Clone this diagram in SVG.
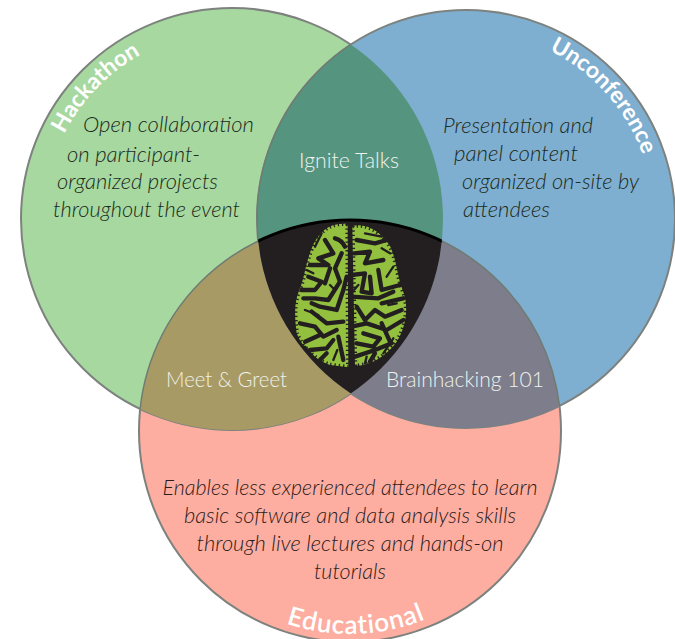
<svg xmlns="http://www.w3.org/2000/svg" width="675" height="639" viewBox="0 0 675 639">
<style>
.ring{stroke:#7d827e;stroke-width:2}
.lens{stroke:#6f7c74;stroke-width:1.5}
.d{font-family:Lato,"Open Sans",sans-serif;font-style:italic;font-weight:300;font-size:22px;fill:#1c2a20}
.r{fill:#2e1c1a}
.w{font-family:Lato,"Open Sans",sans-serif;font-weight:300;font-size:21px;fill:#eef2ee}
.t{font-family:Lato,"Open Sans",sans-serif;font-weight:700;font-size:23px;fill:#fff}
.e{font-weight:600;font-size:26px;letter-spacing:.8px}
.h{fill:#93c13f;stroke:#231f20;stroke-width:14;stroke-dasharray:4 9}
.k{fill:none;stroke:#231f20;stroke-width:13;stroke-linecap:round;stroke-linejoin:round}
.s{fill:none;stroke:#231f20;stroke-width:7;stroke-linecap:round;stroke-linejoin:round}
</style>
<defs>
<clipPath id="cg"><circle cx="232" cy="219" r="211"/></clipPath>
<clipPath id="cb"><circle cx="466" cy="219" r="209"/></clipPath>
<path id="ph" d="M44 219A188 188 0 0 1 232 31"/>
<path id="pu" d="M466 31A188 188 0 0 1 654 219"/>
<path id="pe" d="M147 431A203 203 0 0 0 553 431"/>
</defs>
<rect width="675" height="639" fill="#fff"/>
<g id="educational">
<circle class="ring" cx="350" cy="431" r="211" fill="#fdaea1"/>
<text class="d r" text-anchor="middle" x="350" y="495" textLength="375" lengthAdjust="spacingAndGlyphs">Enables less experienced attendees to learn</text>
<text class="d r" text-anchor="middle" x="350" y="523" textLength="332" lengthAdjust="spacingAndGlyphs">basic software and data analysis skills</text>
<text class="d r" text-anchor="middle" x="350" y="551" textLength="307" lengthAdjust="spacingAndGlyphs">through live lectures and hands-on</text>
<text class="d r" text-anchor="middle" x="350" y="579" textLength="72" lengthAdjust="spacingAndGlyphs">tutorials</text>
<text class="t e"><textPath href="#pe" startOffset="51%" text-anchor="middle">Educational</textPath></text>
</g>
<g id="hackathon">
<circle class="ring" cx="232" cy="219" r="211" fill="#a6d8a0"/>
<text class="d" x="83" y="132" textLength="171" lengthAdjust="spacingAndGlyphs">Open collaboration</text>
<text class="d" x="67" y="162" textLength="133" lengthAdjust="spacingAndGlyphs">on participant-</text>
<text class="d" x="57" y="189" textLength="161" lengthAdjust="spacingAndGlyphs">organized projects</text>
<text class="d" x="53" y="217" textLength="187" lengthAdjust="spacingAndGlyphs">throughout the event</text>
<text class="t"><textPath href="#ph" startOffset="144" text-anchor="middle">Hackathon</textPath></text>
</g>
<g id="unconference">
<circle class="ring" cx="466" cy="219" r="209" fill="#7fafd0"/>
<text class="d" x="443" y="133" textLength="150" lengthAdjust="spacingAndGlyphs">Presentation and</text>
<text class="d" x="454" y="161" textLength="124" lengthAdjust="spacingAndGlyphs">panel content</text>
<text class="d" x="462" y="189" textLength="177" lengthAdjust="spacingAndGlyphs">organized on-site by</text>
<text class="d" x="463" y="217" textLength="87" lengthAdjust="spacingAndGlyphs">attendees</text>
<text class="t"><textPath href="#pu" startOffset="158" text-anchor="middle">Unconference</textPath></text>
</g>
<g id="ignite-talks">
<g clip-path="url(#cg)"><circle class="lens" cx="466" cy="219" r="209" fill="#55957f"/></g>
<text class="w" x="299" y="168" textLength="100" lengthAdjust="spacingAndGlyphs">Ignite Talks</text>
</g>
<g id="meet-greet">
<g clip-path="url(#cg)"><circle class="lens" cx="350" cy="431" r="211" fill="#a89a64"/></g>
<text class="w" x="166" y="387" textLength="121" lengthAdjust="spacingAndGlyphs">Meet &amp; Greet</text>
</g>
<g id="brainhacking">
<g clip-path="url(#cb)"><circle class="lens" cx="350" cy="431" r="211" fill="#7d7d8c"/></g>
<text class="w" x="386" y="387" textLength="158" lengthAdjust="spacingAndGlyphs">Brainhacking 101</text>
</g>
<g id="centre">
<g clip-path="url(#cg)"><g clip-path="url(#cb)"><circle cx="350" cy="431" r="211" fill="#231f20" stroke="#000" stroke-width="3"/></g></g>
</g>
<g id="brain" transform="translate(250 210) scale(.3333)">
<path class="h" d="M293 42C240 35 205 65 185 115C165 165 165 200 148 240C130 280 135 330 140 370C155 410 195 450 240 465L295 472Z"/>
<path class="h" d="M307 48C350 38 395 65 422 112C442 160 442 200 458 240C478 290 468 350 442 392C415 432 370 465 315 468Z"/>
<path class="k" d="M255 85Q275 90 285 110M225 90L250 130L205 145L235 165L180 165"/>
<path class="k" d="M275 130L255 175L270 215L235 270L195 265L160 265M175 200L215 215L195 240L155 240M240 175L225 220"/>
<path class="k" d="M290 200L280 240L260 300L210 290L185 280M185 305L230 340L280 335M150 340L195 350L220 380L260 360"/>
<path class="k" d="M165 395L210 375M180 420L230 415L250 390M210 450L230 430M265 380L280 450"/>
<path class="k" d="M320 90L375 100L410 90M312 130L360 125L345 160L400 150M305 195L345 190L335 245L365 250L360 200"/>
<path class="k" d="M385 180L395 240L450 225M305 260L385 265L430 245M320 290L345 330L375 300L405 320L455 300M395 280L460 265"/>
<path class="k" d="M305 350L350 340L410 360L460 330M340 370L390 385L370 410L320 400M395 340L420 395M315 440L375 420L425 400M360 455L375 430"/>
<path class="s" d="M195 110L215 70M170 180L190 190M165 300L205 315M190 440L165 410M250 450L262 420M345 70L395 80M420 130L395 115M430 170L410 200M440 280L415 285M350 440L345 460M400 430L430 385M325 225L312 240M255 240L240 225"/>
</g>
</svg>
